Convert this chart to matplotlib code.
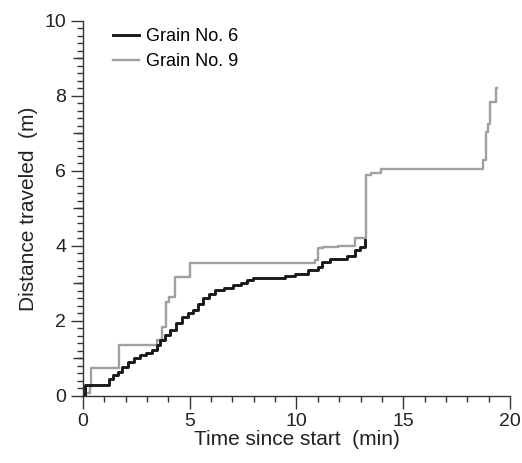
import matplotlib
matplotlib.use("Agg")
import matplotlib.pyplot as plt
from matplotlib.ticker import MultipleLocator, FixedLocator, NullFormatter

plt.rcParams['font.family'] = ['Liberation Sans', 'DejaVu Sans']

# Grain No. 6 (step series)
t6 = [0.0, 0.08, 1.23, 1.4, 1.65, 1.85, 2.12, 2.4, 2.67, 2.95, 3.21, 3.45, 3.61, 3.85,
      4.08, 4.35, 4.62, 4.9, 5.17, 5.4, 5.64, 5.9, 6.18, 6.6, 7.04, 7.4, 7.67, 7.98,
      9.46, 9.93, 10.54, 11.02, 11.18, 11.57, 12.35, 12.74, 12.97, 13.2]
d6 = [0.0, 0.30, 0.45, 0.55, 0.64, 0.78, 0.91, 1.0, 1.09, 1.15, 1.22, 1.35, 1.49, 1.62,
      1.75, 1.95, 2.11, 2.2, 2.29, 2.45, 2.60, 2.72, 2.82, 2.88, 2.95, 3.02, 3.10, 3.13,
      3.19, 3.26, 3.35, 3.44, 3.57, 3.64, 3.72, 3.90, 3.97, 4.15]

# Grain No. 9 (step series)
t9 = [0.0, 0.15, 0.33, 0.37, 1.70, 3.45, 3.68, 3.88, 4.05, 4.31, 5.01,
      10.87, 11.0, 11.26, 11.96, 12.74, 13.25, 13.47, 13.98,
      18.75, 18.87, 18.97, 19.06, 19.33, 19.38]
d9 = [0.0, 0.08, 0.24, 0.73, 1.35, 1.48, 1.84, 2.51, 2.64, 3.17, 3.53,
      3.62, 3.93, 3.97, 3.99, 4.22, 5.89, 5.95, 6.06,
      6.28, 7.04, 7.26, 7.84, 8.20, 8.20]

xlabel = "Time since start  (min)"
ylabel = "Distance traveled  (m)"
labels = ["Grain No. 6", "Grain No. 9"]

fig = plt.figure(figsize=(5.22, 4.63), dpi=100)
ax = fig.add_axes([0.159, 0.145, 0.818, 0.81])

ax.plot(t6, d6, drawstyle='steps-post', color='#1a1a1a', lw=2.1, label=labels[0], zorder=3)
ax.plot(t9, d9, drawstyle='steps-post', color='#a0a0a0', lw=1.7, label=labels[1], zorder=2)

ax.set_xlim(0, 20)
ax.set_ylim(0, 10)
for s in ['top', 'right']:
    ax.spines[s].set_visible(False)
for s in ['left', 'bottom']:
    ax.spines[s].set_color('#333333')
    ax.spines[s].set_linewidth(1.0)

ax.xaxis.set_major_locator(MultipleLocator(5))
ax.xaxis.set_minor_locator(MultipleLocator(1))
ax.yaxis.set_major_locator(MultipleLocator(2))
ax.yaxis.set_minor_locator(MultipleLocator(0.2))
ax.tick_params(which='major', length=9, width=1.0, color='#333333', labelsize=14,
               labelcolor='#222222', direction='out', pad=3)
ax.tick_params(which='minor', length=4.5, width=1.0, color='#333333', direction='out')

sec = ax.secondary_yaxis('left')
sec.yaxis.set_major_locator(FixedLocator([1, 3, 5, 7, 9]))
sec.yaxis.set_major_formatter(NullFormatter())
sec.yaxis.set_minor_locator(FixedLocator([]))
sec.tick_params(which='major', length=7, width=1.0, color='#333333', direction='out')
sec.spines['left'].set_visible(False)

ax.set_xlabel(xlabel, fontsize=15, color='#222222', labelpad=0)
ax.set_ylabel(ylabel, fontsize=15, color='#222222', labelpad=5)

leg = ax.legend(loc='upper left', bbox_to_anchor=(0.045, 1.01), frameon=False, fontsize=13,
                handlelength=1.45, handletextpad=0.4, labelspacing=0.45, borderaxespad=0.2)

fig.savefig("out.png", dpi=100)
